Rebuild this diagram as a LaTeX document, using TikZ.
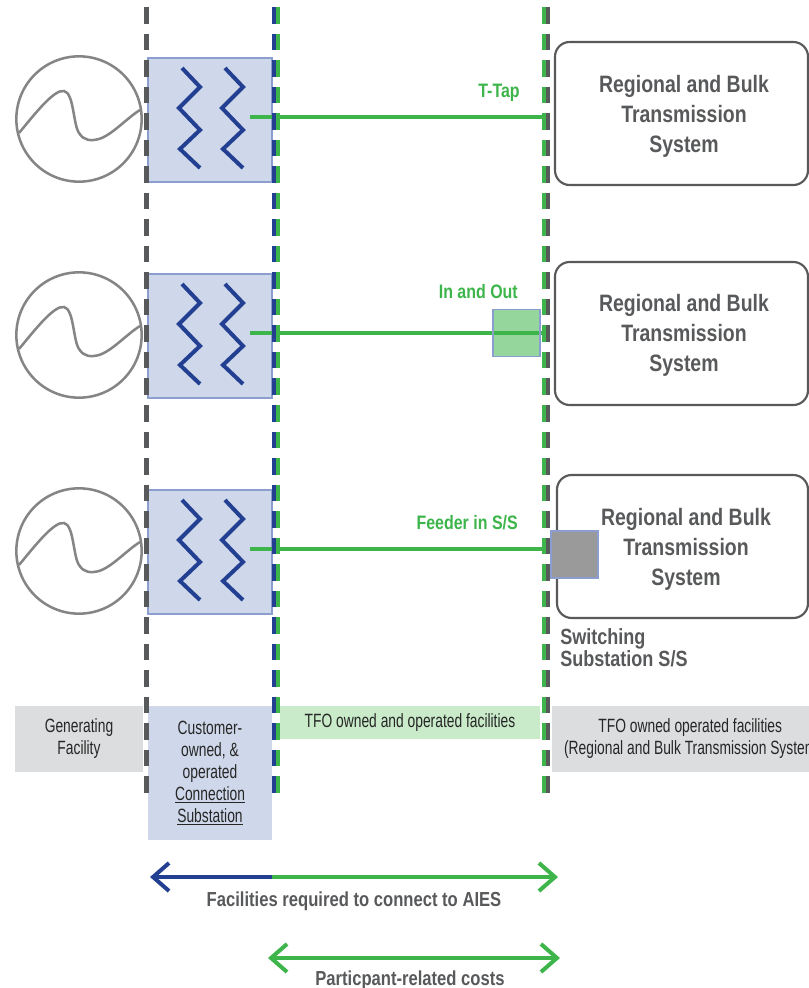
\documentclass[tikz,border=0pt]{standalone}
\usepackage{fontspec}
\setmainfont{Liberation Sans}
\newfontfamily\condfont[FakeStretch=0.82]{Liberation Sans}
\newfontfamily\narrowfont[FakeStretch=0.72]{Liberation Sans}
\usetikzlibrary{arrows.meta}
\definecolor{dgray}{HTML}{58595B}
\definecolor{navy}{HTML}{233F91}
\definecolor{fgreen}{HTML}{3DB54A}
\definecolor{boxblue}{HTML}{CFD8EA}
\definecolor{boxedge}{HTML}{8C9ED0}
\definecolor{lgreen}{HTML}{C9EBC9}
\definecolor{lgray}{HTML}{DCDDDE}
\definecolor{circgray}{HTML}{858585}
\definecolor{sqgray}{HTML}{9A9A9A}
\tikzset{barb/.tip={Straight Barb[length=12pt,width=21pt]}}
\begin{document}
\begin{tikzpicture}[x=0.75pt,y=-0.75pt,
  band/.style={inner sep=0pt, align=center, text=black!85,
    font=\narrowfont\fontsize{14.4}{16.5}\selectfont},
  gen/.style={circle, draw=circgray, line width=1.9pt, minimum size=94pt, inner sep=0pt},
  cbox/.style={rectangle, fill=boxblue, draw=boxedge, line width=1.2pt, minimum width=93pt, minimum height=93pt, inner sep=0pt},
  zig/.style={draw=navy, line width=3pt, miter limit=10},
  wave/.style={draw=circgray, line width=1.9pt},
  feed/.style={draw=fgreen, line width=3pt},
  rbox/.style={rectangle, draw=dgray, line width=1.6pt, rounded corners=11pt,
    minimum width=189.75pt, minimum height=107.25pt, inner sep=0pt},
  rtext/.style={inner sep=0pt, align=center, text=dgray,
    font=\condfont\bfseries\fontsize{17.8}{22.5}\selectfont},
  glabel/.style={anchor=base east, inner sep=0pt, text=fgreen,
    font=\condfont\bfseries\fontsize{14.6}{18}\selectfont},
  blabel/.style={inner sep=0pt, text=dgray,
    font=\condfont\bfseries\fontsize{15.2}{18}\selectfont},
  dashgray/.style={draw=dgray, line width=3.75pt, dash pattern=on 12.4pt off 7.5pt},
  dashhalf/.style={line width=3pt, dash pattern=on 12.4pt off 7.5pt},
  arr/.style={line width=3pt}
]
\useasboundingbox (0,0) rectangle (809,988);
\clip (0,0) rectangle (809,988);

% bottom bands
\node[band, fill=lgray, minimum width=96pt, minimum height=49.5pt] (genband) at (79,739) {Generating\\Facility};
\node[band, fill=boxblue, minimum width=93pt, minimum height=100.5pt] (custband) at (210,773)
  {Customer-\\owned, \&\\operated\\\underline{Connection}\\\underline{Substation}};
\node[band, fill=lgreen, minimum width=195pt, minimum height=24.75pt] (tfoband) at (410,722.5) {TFO owned and operated facilities};
\node[band, fill=lgray, minimum width=207pt, minimum height=49.5pt, anchor=west] (rbsband) at (552,739)
  {TFO owned operated facilities\\(Regional and Bulk Transmission System};

% rows
\foreach \i/\y in {1/120,2/336,3/552}{
  \node[gen] (gen\i) at (79,\y-1) {};
  \begin{scope}[shift={(gen\i.center)}]
    \draw[wave] (-60,14) .. controls (-45,-4) and (-25,-30) .. (-15,-28)
      .. controls (-5,-26) and (-6,5) .. (0,14)
      .. controls (5,22) and (12,22) .. (20,20)
      .. controls (33,16) and (48,-1) .. (61,-9);
  \end{scope}
  \node[cbox] (sub\i) at (210,\y) {};
  \begin{scope}[shift={(sub\i.center)}]
    \draw[zig] (-28,-52) -- (-10,-33) -- (-31,-12) -- (-10,10) -- (-30,29) -- (-10,48);
    \draw[zig] (15,-52) -- (33,-33) -- (12,-12) -- (33,10) -- (13,29) -- (33,48);
  \end{scope}
  \coordinate (s\i) at (250,\y-3);
  \coordinate (t\i) at (546,\y-3);
  \draw[feed] (s\i) -- (t\i);
}

% regional boxes
\node[rbox] (rb1) at (681.5,113.5) {};
\node[rtext] (rb1t) at (684,116) {Regional and Bulk\\Transmission\\System};
\node[rbox] (rb2) at (681.5,333.5) {};
\node[rtext] (rb2t) at (684,335.5) {Regional and Bulk\\Transmission\\System};
\node[rbox, minimum width=188.25pt] (rb3) at (682.5,546.5) {};
\node[rtext] (rb3t) at (686,549.5) {Regional and Bulk\\Transmission\\System};

% green labels
\node[glabel] (ttap) at (520,98) {T-Tap};
\node[glabel] (inout) at (518,298) {In and Out};
\node[glabel] (feedl) at (518,529) {Feeder in S/S};

% dashed boundary lines
\coordinate (d1t) at (146,7);   \coordinate (d1b) at (146,797);
\coordinate (d2at) at (274,7);  \coordinate (d2ab) at (274,797);
\coordinate (d2bt) at (278,7);  \coordinate (d2bb) at (278,797);
\coordinate (d3at) at (544,7);  \coordinate (d3ab) at (544,797);
\coordinate (d3bt) at (548,7);  \coordinate (d3bb) at (548,797);
\draw[dashgray] (d1t) -- (d1b);
\draw[dashhalf, draw=navy] (d2at) -- (d2ab);
\draw[dashhalf, draw=fgreen] (d2bt) -- (d2bb);
\draw[dashhalf, draw=fgreen] (d3at) -- (d3ab);
\draw[dashhalf, draw=dgray] (d3bt) -- (d3bb);

% squares
\node[rectangle, minimum size=35.25pt, inner sep=0pt, fill=fgreen, fill opacity=0.55, draw=boxedge, draw opacity=1, line width=1.2pt] (inoutsq) at (516.5,333) {};
\node[rectangle, minimum size=35.25pt, inner sep=0pt, fill=sqgray, draw=boxedge, line width=1.2pt] (swsq) at (574.5,554.5) {};

\node[anchor=north west, inner sep=0pt, align=left, text=dgray,
  font=\condfont\bfseries\fontsize{16.5}{16.5}\selectfont] (swl) at (560,628) {Switching\\Substation S/S};

% arrows
\coordinate (a1l) at (150,877);
\coordinate (a1m) at (272,877);
\coordinate (a1r) at (558,877);
\draw[arr, draw=navy, {barb}-] (a1l) -- (a1m);
\draw[arr, draw=fgreen, -{barb}] (a1m) -- (a1r);
\node[blabel] (facl) at (354,901) {Facilities required to connect to AIES};

\coordinate (a2l) at (268,958);
\coordinate (a2r) at (560,958);
\draw[arr, draw=fgreen, {barb}-{barb}] (a2l) -- (a2r);
\node[blabel] (partl) at (410,980) {Particpant-related costs};
\end{tikzpicture}
\end{document}
